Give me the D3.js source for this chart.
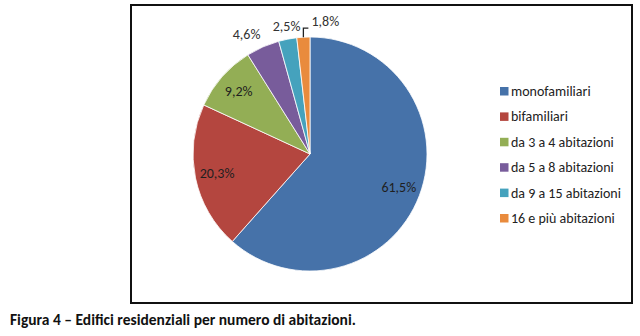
<!DOCTYPE html>
<html>
<head>
<meta charset="utf-8">
<script src="https://cdn.jsdelivr.net/npm/d3@7"></script>
<style>
  html, body { margin: 0; padding: 0; background: #fff; }
  svg { display: block; }
  text { font-family: Carlito, Lato, "Open Sans", sans-serif; }
</style>
</head>
<body>
<svg id="chart" width="640" height="336"></svg>
<script>
const categories = ["monofamiliari", "bifamiliari", "da 3 a 4 abitazioni", "da 5 a 8 abitazioni", "da 9 a 15 abitazioni", "16 e più abitazioni"];
const values = [61.5, 20.3, 9.2, 4.6, 2.5, 1.8];
const valueLabels = ["61,5%", "20,3%", "9,2%", "4,6%", "2,5%", "1,8%"];
const colors = ["#4672A9", "#B4463F", "#93AE55", "#785C9B", "#45A2BD", "#E98B3D"];
const title = "Figura 4 – Edifici residenziali per numero di abitazioni.";

const svg = d3.select("#chart");

// chart frame
svg.append("rect")
  .attr("x", 131).attr("y", 5)
  .attr("width", 501).attr("height", 298)
  .attr("fill", "#fff").attr("stroke", "#111").attr("stroke-width", 2);

const cx = 310, cy = 154, R = 117;
const g = svg.append("g").attr("transform", `translate(${cx},${cy})`);

const data = categories.map((c, i) => ({ cat: c, value: values[i], label: valueLabels[i], color: colors[i] }));
const pie = d3.pie().value(d => d.value).sort(null);
const arcs = pie(data);
const arc = d3.arc().innerRadius(0).outerRadius(R);

g.selectAll("path.slice").data(arcs).enter().append("path")
  .attr("class", "slice")
  .attr("d", arc)
  .attr("fill", d => d.data.color)
  .attr("stroke", "#fff").attr("stroke-width", 0.8);

const inArc = d3.arc().innerRadius(95).outerRadius(95);
const outArc = d3.arc().innerRadius(R + 6).outerRadius(R + 6);
const leadArc = d3.arc().innerRadius(133).outerRadius(133);
const edgeArc = d3.arc().innerRadius(R).outerRadius(R);

arcs.forEach((d, i) => {
  const inside = d.data.value > 5;
  const mid = (d.startAngle + d.endAngle) / 2;
  let anchor = "middle";
  let x, y;
  if (inside) {
    [x, y] = inArc.centroid(d);
  } else if (i === arcs.length - 1) {
    const [ex, ey] = edgeArc.centroid(d);
    const [, ly0] = leadArc.centroid(d);
    const ly = ly0 + 7;
    g.append("path")
      .attr("d", `M${ex},${ey} L${ex},${ly} L${ex + 5},${ly}`)
      .attr("fill", "none").attr("stroke", "#222").attr("stroke-width", 1.3);
    x = ex + 22; y = ly0;
  } else {
    [x, y] = outArc.centroid(d);
    y -= 7;
    if (Math.abs(Math.sin(mid)) > 0.3) {
      anchor = Math.sin(mid) < 0 ? "end" : "start";
    }
  }
  g.append("text")
    .attr("x", x).attr("y", y)
    .attr("text-anchor", anchor)
    .attr("dominant-baseline", "central")
    .attr("font-size", 14)
    .attr("fill", inside ? "#1f1f1f" : "#333")
    .text(d.data.label);
});

// legend
const leg = svg.append("g").attr("transform", "translate(500,91)");
const rows = leg.selectAll("g").data(data).enter().append("g")
  .attr("transform", (d, i) => `translate(0,${i * 25.4})`);
rows.append("rect").attr("x", 0).attr("y", -4).attr("width", 8.5).attr("height", 8.5)
  .attr("fill", d => d.color);
rows.append("text").attr("x", 11).attr("y", 0.5)
  .attr("dominant-baseline", "central")
  .attr("font-size", 14).attr("fill", "#222")
  .text(d => d.cat);

// caption
svg.append("text")
  .attr("x", 10).attr("y", 325)
  .attr("font-size", 15.5).attr("font-weight", "bold").attr("fill", "#111")
  .text(title);
</script>
</body>
</html>
